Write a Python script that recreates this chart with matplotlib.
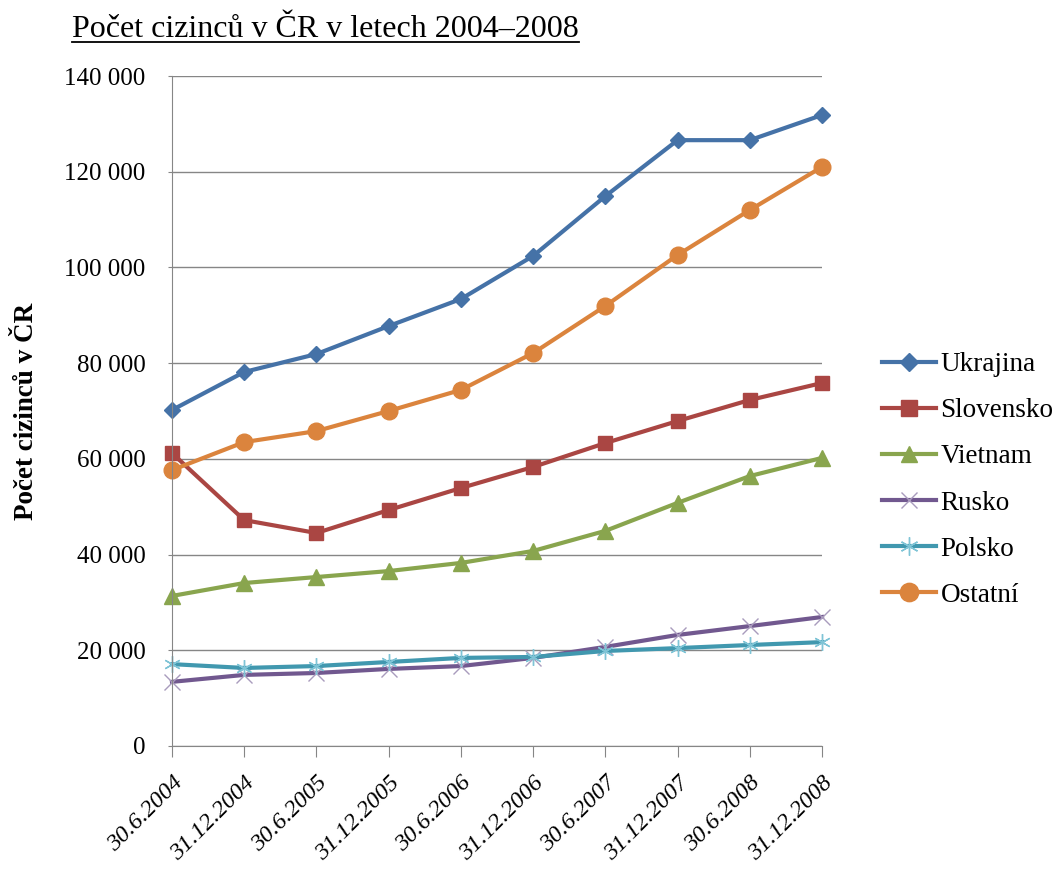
import matplotlib
matplotlib.use('Agg')
import matplotlib.pyplot as plt
from matplotlib.lines import Line2D

plt.rcParams['font.family'] = ['Liberation Serif', 'DejaVu Serif']

# data
datumy = ['30.6.2004', '31.12.2004', '30.6.2005', '31.12.2005', '30.6.2006',
          '31.12.2006', '30.6.2007', '31.12.2007', '30.6.2008', '31.12.2008']
ukrajina = [70200, 78150, 81900, 87750, 93400, 102400, 114900, 126600, 126600, 131850]
slovensko = [61200, 47200, 44500, 49300, 53900, 58300, 63300, 67900, 72300, 75850]
vietnam = [31350, 34050, 35300, 36550, 38250, 40750, 44950, 50800, 56400, 60200]
rusko = [13400, 14850, 15250, 16100, 16700, 18400, 20700, 23200, 25050, 26950]
polsko = [17100, 16300, 16700, 17550, 18400, 18600, 19850, 20450, 21100, 21700]
ostatni = [57650, 63500, 65800, 70000, 74400, 82100, 91950, 102600, 112000, 121000]

fig = plt.figure(figsize=(10.57, 8.74), dpi=100)
ax = fig.add_axes([0.1627, 0.1465, 0.615, 0.7665])

x = range(len(datumy))
ax.plot(x, ukrajina, color='#4572A7', lw=3, marker='D', ms=8, label='Ukrajina', clip_on=False)
ax.plot(x, slovensko, color='#AA4643', lw=3, marker='s', ms=10, label='Slovensko', clip_on=False)
ax.plot(x, vietnam, color='#89A54E', lw=3, marker='^', ms=11, label='Vietnam', clip_on=False)
ax.plot(x, rusko, color='#71588F', lw=3, marker='x', ms=11, mew=1,
        mec='#A99BBD', label='Rusko', clip_on=False)
ax.plot(x, polsko, color='#4198AF', lw=3, marker=(6, 2, 0), ms=12, mew=1,
        mec='#7FC4D6', label='Polsko', clip_on=False)
ax.plot(x, ostatni, color='#DB843D', lw=3, marker='o', ms=12, label='Ostatní', clip_on=False)

ax.set_xlim(0, len(datumy) - 1)
ax.set_ylim(0, 140000)
ax.set_yticks(range(0, 140001, 20000))
ax.set_yticklabels([f'{v:,}'.replace(',', ' ') for v in range(0, 140001, 20000)],
                   fontsize=18)
ax.set_xticks(list(x))
ax.set_xticklabels(datumy, rotation=45, ha='right', rotation_mode='anchor',
                   fontsize=17.5, style='italic')
ax.grid(axis='y', color='#868686', lw=1)
ax.set_axisbelow(True)
for s in ['top', 'right']:
    ax.spines[s].set_visible(False)
for s in ['left', 'bottom']:
    ax.spines[s].set_color('#868686')
ax.tick_params(axis='x', length=8, color='#868686', pad=11, direction='out')
ax.tick_params(axis='y', length=3, color='#868686', pad=16)
ax.set_ylabel('Počet cizinců v ČR', fontsize=19.5, fontweight='bold', labelpad=18)

ax.legend(loc='center left', bbox_to_anchor=(1.055, 0.397), frameon=False,
          fontsize=19.5, labelspacing=0.78, handlelength=2.0, handletextpad=0.15,
          markerscale=1.1)

# titulek s podtrzenim
t = fig.text(0.068, 0.966, 'Počet cizinců v ČR v letech 2004–2008', fontsize=23,
             va='center', ha='left')
fig.canvas.draw()
bb = t.get_window_extent().transformed(fig.transFigure.inverted())
fig.add_artist(Line2D([bb.x0, bb.x1], [bb.y0 + 0.002, bb.y0 + 0.002], color='black',
                      lw=1.3, transform=fig.transFigure))

fig.savefig('out.png', dpi=100)
